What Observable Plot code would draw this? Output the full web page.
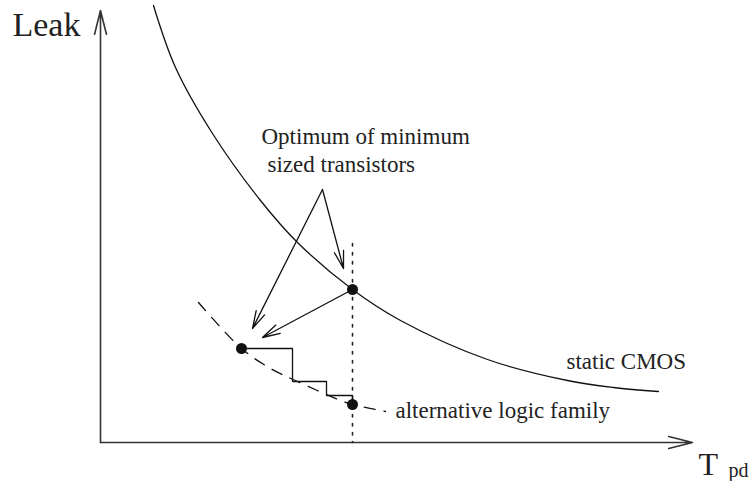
<!DOCTYPE html>
<html>
<head>
<meta charset="utf-8">
<script src="https://cdn.jsdelivr.net/npm/d3@7"></script>
<script src="https://cdn.jsdelivr.net/npm/@observablehq/plot@0.6"></script>
<style>
  html, body { margin: 0; padding: 0; background: #fff; }
  svg { display: block; }
  svg text { font-family: "Liberation Serif", "DejaVu Serif", serif !important; }
</style>
</head>
<body>
<div id="chart"></div>
<script>
// Schematic coordinates: T_pd to the right, Leak upward, origin at the axes' corner.
const cmosT    = [53, 75, 112, 160, 197, 252, 300, 387, 467, 513, 558];
const cmosLeak = [437, 375, 309, 242, 200, 153, 122, 83, 62, 55, 51];

const altT    = [98, 141, 170, 197, 240, 252, 285];
const altLeak = [140, 94, 74, 61, 42, 38, 31];

const stepT    = [141, 192, 192, 226, 226, 252, 252];
const stepLeak = [94, 94, 61, 61, 47, 47, 38];

const optT    = [252, 141, 252];
const optLeak = [153, 94, 38];

const guideT    = [252, 252];
const guideLeak = [199, 0];

// arrows: start -> end
const arrowFromT    = [222, 222, 252];
const arrowFromLeak = [253, 253, 153];
const arrowToT      = [243, 152, 162];
const arrowToLeak   = [174, 114, 105];

const axisFromT = [0, 0];
const axisFromLeak = [0, 0];
const axisToT = [0, 592];
const axisToLeak = [432, 0];

const labels   = ["Leak", "T", "pd", "Optimum of minimum", "sized transistors", "static CMOS", "alternative logic family"];
const labelT   = [-88, 598, 628, 161, 167, 466, 295];
const labelY   = [407, -32, -34, 299, 271, 74, 25];
const labelSz  = [34, 32, 20, 23, 23, 23, 23];

const zip = (a, b) => a.map((v, i) => ({x: v, y: b[i]}));
const cmos = zip(cmosT, cmosLeak);
const alt = zip(altT, altLeak);
const steps = zip(stepT, stepLeak);
const opts = zip(optT, optLeak);
const guide = zip(guideT, guideLeak);
const arrows = arrowFromT.map((v, i) => ({x1: v, y1: arrowFromLeak[i], x2: arrowToT[i], y2: arrowToLeak[i]}));
const axes = axisFromT.map((v, i) => ({x1: v, y1: axisFromLeak[i], x2: axisToT[i], y2: axisToLeak[i]}));
const texts = labels.map((t, i) => ({t, x: labelT[i], y: labelY[i], s: labelSz[i]}));

const font = "Liberation Serif";

const marks = [
  Plot.arrow(axes, {x1: "x1", y1: "y1", x2: "x2", y2: "y2", stroke: "#333", strokeWidth: 1.6, headLength: 23, headAngle: 28}),
  Plot.line(guide, {x: "x", y: "y", stroke: "#222", strokeWidth: 1.6, strokeDasharray: "2.5,6.5"}),
  Plot.line(cmos, {x: "x", y: "y", curve: "catmull-rom", stroke: "#111", strokeWidth: 1.3}),
  Plot.line(alt, {x: "x", y: "y", curve: "catmull-rom", stroke: "#111", strokeWidth: 1.3, strokeDasharray: "11,9"}),
  Plot.line(steps, {x: "x", y: "y", stroke: "#111", strokeWidth: 1.3}),
  Plot.arrow(arrows, {x1: "x1", y1: "y1", x2: "x2", y2: "y2", stroke: "#111", strokeWidth: 1.3, headLength: 21, headAngle: 30}),
  Plot.dot(opts, {x: "x", y: "y", r: 5.5, fill: "#111", stroke: "none"})
];
for (const d of texts) {
  marks.push(Plot.text([d], {x: "x", y: "y", text: "t", textAnchor: "start", lineAnchor: "bottom", fontSize: d.s, fontFamily: font, fill: "#222"}));
}

const chart = Plot.plot({
  width: 752,
  height: 481,
  margin: 0,
  style: {background: "#fff"},
  x: {domain: [-100, 652], axis: null},
  y: {domain: [-39, 442], axis: null},
  marks
});
document.getElementById("chart").appendChild(chart);
</script>
</body>
</html>
